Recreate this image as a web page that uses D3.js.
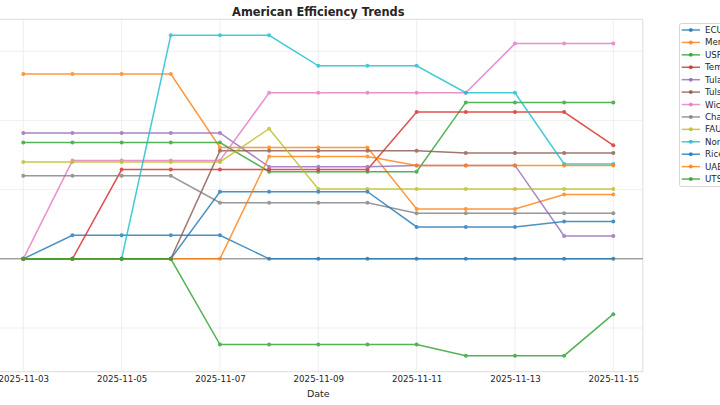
<!DOCTYPE html>
<html>
<head>
<meta charset="utf-8">
<script src="https://cdn.jsdelivr.net/npm/d3@7"></script>
<style>
  body { margin: 0; background: #fff; }
  svg { font-family: "DejaVu Sans", sans-serif; display: block; }
</style>
</head>
<body>
<svg id="chart"></svg>
<script>
const width = 720;
const height = 405;

// dates on the x axis
const dates = ["2025-11-03", "2025-11-04", "2025-11-05", "2025-11-06", "2025-11-07",
  "2025-11-08", "2025-11-09", "2025-11-10", "2025-11-11", "2025-11-12",
  "2025-11-13", "2025-11-14", "2025-11-15"];
const tickLabels = ["2025-11-03", "2025-11-05", "2025-11-07", "2025-11-09",
  "2025-11-11", "2025-11-13", "2025-11-15"];
const yTicks = [-1, 0, 1, 2, 3];

const teams = ["ECU", "Memphis", "USF", "Temple", "Tulane", "Tulsa", "Wichita St",
  "Charlotte", "FAU", "North Texas", "Rice", "UAB", "UTSA"];
const colors = ["#1f77b4", "#ff7f0e", "#2ca02c", "#d62728", "#9467bd", "#8c564b",
  "#e377c2", "#7f7f7f", "#bcbd22", "#17becf", "#1f77b4", "#ff7f0e", "#2ca02c"];

// one array per team
const ecu        = [0, 0.34, 0.34, 0.34, 0.34, 0, 0, 0, 0, 0, 0, 0, 0];
const memphis    = [2.67, 2.67, 2.67, 2.67, 1.61, 1.61, 1.61, 1.61, 0.72, 0.72, 0.72, 0.93, 0.93];
const usf        = [1.68, 1.68, 1.68, 1.68, 1.68, 1.26, 1.26, 1.26, 1.26, 2.26, 2.26, 2.26, 2.26];
const temple     = [0, 0, 1.29, 1.29, 1.29, 1.29, 1.29, 1.29, 2.12, 2.12, 2.12, 2.12, 1.64];
const tulane     = [1.82, 1.82, 1.82, 1.82, 1.82, 1.33, 1.33, 1.33, 1.35, 1.35, 1.35, 0.33, 0.33];
const tulsa      = [0, 0, 0, 0, 1.56, 1.56, 1.56, 1.56, 1.56, 1.53, 1.53, 1.53, 1.53];
const wichita    = [0, 1.42, 1.42, 1.42, 1.42, 2.40, 2.40, 2.40, 2.40, 2.40, 3.11, 3.11, 3.11];
const charlotte  = [1.20, 1.20, 1.20, 1.20, 0.81, 0.81, 0.81, 0.81, 0.66, 0.66, 0.66, 0.66, 0.66];
const fau        = [1.40, 1.40, 1.40, 1.40, 1.40, 1.88, 1.01, 1.01, 1.01, 1.01, 1.01, 1.01, 1.01];
const northTexas = [0, 0, 0, 3.23, 3.23, 3.23, 2.79, 2.79, 2.79, 2.40, 2.40, 1.37, 1.37];
const rice       = [0, 0, 0, 0, 0.97, 0.97, 0.97, 0.97, 0.46, 0.46, 0.46, 0.54, 0.54];
const uab        = [0, 0, 0, 0, 0, 1.48, 1.48, 1.48, 1.35, 1.35, 1.35, 1.35, 1.35];
const utsa       = [0, 0, 0, 0, -1.24, -1.24, -1.24, -1.24, -1.24, -1.40, -1.40, -1.40, -0.80];

const values = [ecu, memphis, usf, temple, tulane, tulsa, wichita,
  charlotte, fau, northTexas, rice, uab, utsa];

const parse = d3.timeParse("%Y-%m-%d");
const fmt = d3.timeFormat("%Y-%m-%d");
const xDates = dates.map(parse);

const series = teams.map((name, i) => ({
  name: name,
  color: colors[i],
  points: values[i].map((v, j) => ({ date: xDates[j], value: v }))
}));

/* ---------------------------
Scales (5% padding like the original)
--------------------------- */

const plotLeft = -6.2, plotRight = 642.8, plotTop = 19.3, plotBottom = 371.7;

const xExt = d3.extent(xDates);
const xPad = (xExt[1] - xExt[0]) * 0.05;
const x = d3.scaleTime()
  .domain([new Date(+xExt[0] - xPad), new Date(+xExt[1] + xPad)])
  .range([plotLeft, plotRight]);

const all = values.flat();
const yMin = d3.min(all), yMax = d3.max(all);
const yPad = (yMax - yMin) * 0.05;
const y = d3.scaleLinear()
  .domain([yMin - yPad, yMax + yPad])
  .range([plotBottom, plotTop]);

const svg = d3.select("#chart")
  .attr("width", width)
  .attr("height", height);

/* ---------------------------
Grid and frame
--------------------------- */

svg.append("rect")
  .attr("x", plotLeft).attr("y", plotTop)
  .attr("width", plotRight - plotLeft).attr("height", plotBottom - plotTop)
  .attr("fill", "#fff");

const grid = svg.append("g");
grid.selectAll(".vg")
  .data(tickLabels.map(parse))
  .enter().append("line")
  .attr("x1", d => x(d)).attr("x2", d => x(d))
  .attr("y1", plotTop).attr("y2", plotBottom)
  .attr("stroke", "#ebebeb").attr("stroke-width", 0.8);
// y tick labels sit left of the window in the original, so only the grid is drawn
grid.selectAll(".hg")
  .data(yTicks)
  .enter().append("line")
  .attr("x1", plotLeft).attr("x2", plotRight)
  .attr("y1", d => y(d)).attr("y2", d => y(d))
  .attr("stroke", "#ebebeb").attr("stroke-width", 0.8);

svg.append("rect")
  .attr("x", plotLeft).attr("y", plotTop)
  .attr("width", plotRight - plotLeft).attr("height", plotBottom - plotTop)
  .attr("fill", "none")
  .attr("stroke", "#dddddd").attr("stroke-width", 1);

// zero line
svg.append("line")
  .attr("x1", plotLeft).attr("x2", plotRight)
  .attr("y1", y(0)).attr("y2", y(0))
  .attr("stroke", "#000").attr("stroke-opacity", 0.5).attr("stroke-width", 1);

/* ---------------------------
Axes
--------------------------- */

const xAxis = d3.axisBottom(x)
  .tickValues(tickLabels.map(parse))
  .tickFormat(fmt)
  .tickSize(0)
  .tickPadding(4);

const xg = svg.append("g")
  .attr("transform", `translate(0,${plotBottom})`)
  .call(xAxis);
xg.select(".domain").remove();
xg.selectAll("text")
  .attr("font-size", "8.7px")
  .attr("font-family", "DejaVu Sans")
  .attr("fill", "#262626");

svg.append("text")
  .attr("x", (plotLeft + plotRight) / 2)
  .attr("y", 397)
  .attr("text-anchor", "middle")
  .attr("font-size", "9.5px")
  .attr("fill", "#262626")
  .text("Date");

svg.append("text")
  .attr("x", (plotLeft + plotRight) / 2)
  .attr("y", 15.5)
  .attr("text-anchor", "middle")
  .attr("font-size", "11.4px")
  .attr("font-weight", "bold")
  .attr("fill", "#262626")
  .text("American Efficiency Trends");

/* ---------------------------
Lines and markers
--------------------------- */

const line = d3.line()
  .x(d => x(d.date))
  .y(d => y(d.value));

const g = svg.selectAll(".series")
  .data(series)
  .enter().append("g")
  .attr("opacity", 0.8);

g.append("path")
  .attr("d", d => line(d.points))
  .attr("fill", "none")
  .attr("stroke", d => d.color)
  .attr("stroke-width", 1.5);

g.selectAll("circle")
  .data(d => d.points.map(p => ({ ...p, color: d.color })))
  .enter().append("circle")
  .attr("cx", d => x(d.date))
  .attr("cy", d => y(d.value))
  .attr("r", 2)
  .attr("fill", d => d.color);

/* ---------------------------
Legend (cut off by the window edge)
--------------------------- */

const legend = svg.append("g");
legend.append("rect")
  .attr("x", 679.5).attr("y", 23.5)
  .attr("width", 90).attr("height", 163)
  .attr("rx", 2)
  .attr("fill", "#fff").attr("fill-opacity", 0.8)
  .attr("stroke", "#cccccc").attr("stroke-width", 0.8);

const item = legend.selectAll(".item")
  .data(series)
  .enter().append("g")
  .attr("transform", (d, i) => `translate(0,${30 + i * 12.42})`);

item.append("line")
  .attr("x1", 681.7).attr("x2", 700)
  .attr("stroke", d => d.color).attr("stroke-width", 1.5).attr("stroke-opacity", 0.8);
item.append("circle")
  .attr("cx", 690.8).attr("r", 2)
  .attr("fill", d => d.color).attr("fill-opacity", 0.8);
item.append("text")
  .attr("x", 705)
  .attr("dy", "0.35em")
  .attr("font-size", "8.7px")
  .attr("fill", "#262626")
  .text(d => d.name);
</script>
</body>
</html>
